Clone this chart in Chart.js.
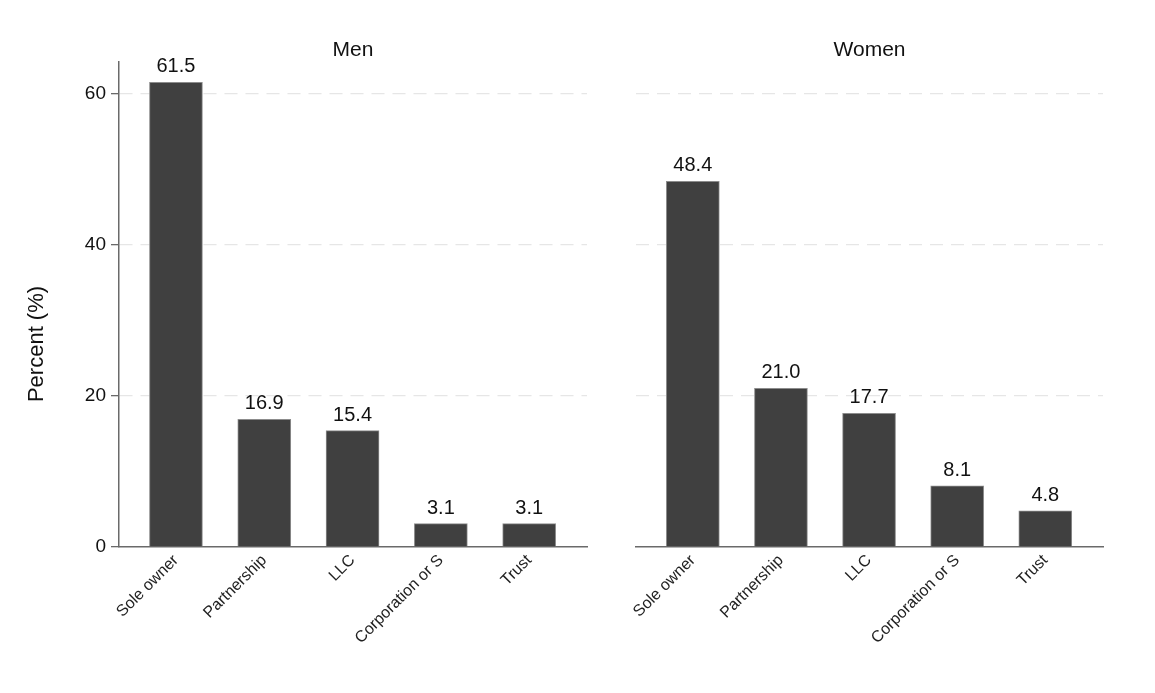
<!DOCTYPE html>
<html>
<head>
<meta charset="utf-8">
<script src="https://cdn.jsdelivr.net/npm/chart.js@4"></script>
<style>
  html, body { margin: 0; padding: 0; background: #ffffff; }
  #wrap { position: relative; width: 1155px; height: 693px; overflow: hidden; background: #fff; }
  #c1 { position: absolute; left: 0; top: 0; }
  #c2 { position: absolute; left: 600px; top: 0; }
</style>
</head>
<body>
<div id="wrap">
  <canvas id="c1" width="600" height="693" style="width:600px;height:693px"></canvas>
  <canvas id="c2" width="555" height="693" style="width:555px;height:693px"></canvas>
</div>
<script>
const categories = ["Sole owner", "Partnership", "LLC", "Corporation or S", "Trust"];
const menValues = [61.5, 16.9, 15.4, 3.1, 3.1];
const womenValues = [48.4, 21.0, 17.7, 8.1, 4.8];
const panelTitles = ["Men", "Women"];
const yTitle = "Percent (%)";
const yMax = 64.2;
const yStep = 20;

const FONT = '"Liberation Sans", Arial, Helvetica, sans-serif';
Chart.defaults.font.family = FONT;
Chart.defaults.color = '#111';

function labelPlugin(title, showYTitle) {
  return {
    id: 'labels_' + title,
    afterDatasetsDraw(chart) {
      const ctx = chart.ctx;
      const area = chart.chartArea;
      const ds = chart.data.datasets[0];
      const meta = chart.getDatasetMeta(0);
      ctx.save();
      ctx.fillStyle = '#111';
      ctx.font = '20px ' + FONT;
      ctx.textAlign = 'center';
      ctx.textBaseline = 'alphabetic';
      meta.data.forEach((bar, i) => {
        ctx.fillText(ds.data[i].y.toFixed(1), bar.x, bar.y - 10);
      });
      ctx.font = '21px ' + FONT;
      ctx.fillText(title, (area.left + area.right) / 2, 56);
      if (showYTitle) {
        ctx.font = '22px ' + FONT;
        ctx.translate(37, 344);
        ctx.rotate(-Math.PI / 2);
        ctx.textBaseline = 'middle';
        ctx.fillText(yTitle, 0, 0);
      }
      ctx.restore();
    }
  };
}

function makeChart(canvasId, values, title, isLeft) {
  const data = values.map((v, i) => ({ x: i, y: v }));
  return new Chart(document.getElementById(canvasId), {
    type: 'bar',
    data: {
      datasets: [{
        data: data,
        backgroundColor: '#404040',
        borderColor: '#8c8c8c',
        borderWidth: 1,
        barThickness: 53
      }]
    },
    options: {
      responsive: false,
      animation: false,
      layout: { padding: isLeft ? { top: 62, right: 13, bottom: 0, left: 0 } : { top: 62, right: 52, bottom: 0, left: 36 } },
      plugins: { legend: { display: false }, tooltip: { enabled: false }, title: { display: false } },
      scales: {
        x: {
          type: 'linear',
          offset: false,
          min: -0.645,
          max: 4.655,
          afterBuildTicks: s => { s.ticks = categories.map((c, i) => ({ value: i })); },
          afterFit: s => { s.height = 146; },
          ticks: {
            callback: v => categories[v],
            autoSkip: false,
            minRotation: 45,
            maxRotation: 45,
            font: { size: 16 },
            color: '#222',
            padding: 4
          },
          grid: { display: false, drawTicks: false },
          border: { display: true, color: '#6a6a6a', width: 1.5 }
        },
        y: {
          min: 0,
          max: yMax,
          afterFit: s => { s.width = isLeft ? 119 : 0; },
          ticks: {
            display: isLeft,
            stepSize: yStep,
            includeBounds: false,
            font: { size: 19 },
            color: '#111',
            padding: 5
          },
          grid: {
            color: c => (c.tick && c.tick.value === 0) ? 'rgba(0,0,0,0)' : '#e6e6e6',
            lineWidth: 1.3,
            drawTicks: isLeft,
            tickLength: 8,
            tickColor: '#6a6a6a',
            tickWidth: 1.3,
            tickBorderDash: []
          },
          border: { display: isLeft, color: '#6a6a6a', width: 1.5, dash: [13, 8] }
        }
      }
    },
    plugins: [labelPlugin(title, isLeft)]
  });
}

makeChart('c1', menValues, panelTitles[0], true);
makeChart('c2', womenValues, panelTitles[1], false);
</script>
</body>
</html>
